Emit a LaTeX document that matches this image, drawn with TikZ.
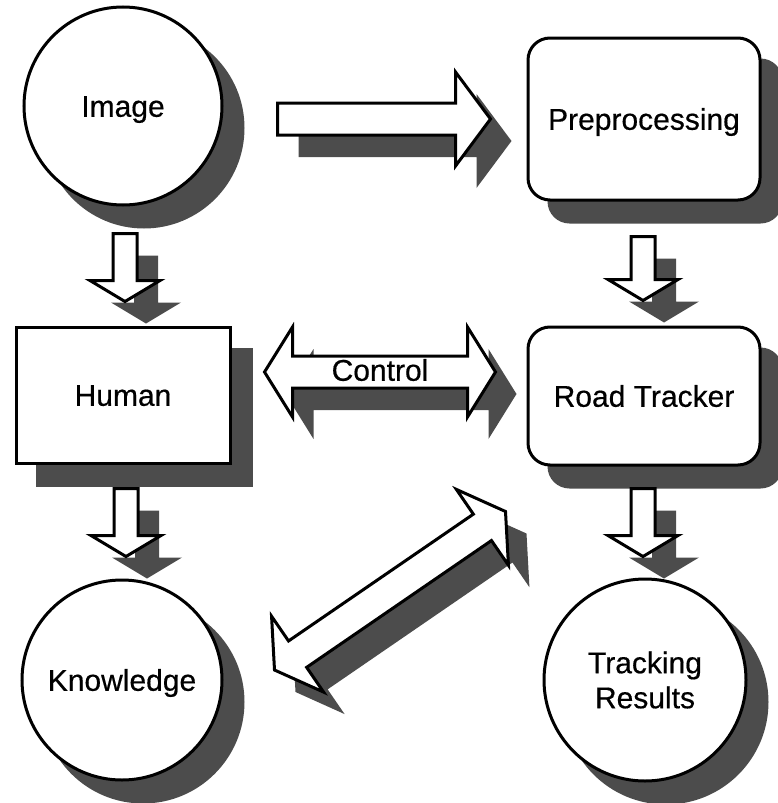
\documentclass[tikz,border=0pt]{standalone}
\usepackage{fontspec}
\setmainfont{Liberation Sans}
\usetikzlibrary{calc}

\pgfdeclarelayer{shadowlayer}
\pgfsetlayers{shadowlayer,main}

\definecolor{shadowgray}{gray}{0.30}

% Block arrow from tail #2 to tip #3, drawn with style #1;
% #4 = half width of the shaft, #5 = half width of the head, #6 = head length
\newcommand\singleblock[6]{%
  \path[#1] ($(#2)!#4!90:(#3)$)
    -- ($(#3)!#6!(#2)!#4!90:(#3)$)
    -- ($(#3)!#6!(#2)!#5!90:(#3)$)
    -- (#3)
    -- ($(#3)!#6!(#2)!#5!-90:(#3)$)
    -- ($(#3)!#6!(#2)!#4!-90:(#3)$)
    -- ($(#2)!#4!-90:(#3)$) -- cycle;}

% Double-headed block arrow between tips #2 and #3
\newcommand\doubleblock[6]{%
  \path[#1] (#2)
    -- ($(#2)!#6!(#3)!#5!90:(#3)$)
    -- ($(#2)!#6!(#3)!#4!90:(#3)$)
    -- ($(#3)!#6!(#2)!#4!90:(#3)$)
    -- ($(#3)!#6!(#2)!#5!90:(#3)$)
    -- (#3)
    -- ($(#3)!#6!(#2)!#5!-90:(#3)$)
    -- ($(#3)!#6!(#2)!#4!-90:(#3)$)
    -- ($(#2)!#6!(#3)!#4!-90:(#3)$)
    -- ($(#2)!#6!(#3)!#5!-90:(#3)$) -- cycle;}

\tikzset{
  label font/.style={font=\fontsize{30}{35}\selectfont\addfontfeature{FakeBold=0.5}},
  outline/.style={draw=black, line width=3pt, fill=white},
  ball/.style={outline, circle, inner sep=0pt, label font,
    text height=21.5pt, text depth=0pt},
  plainbox/.style={outline, rectangle, inner sep=0pt, label font,
    text height=21.5pt, text depth=0pt},
  softbox/.style={plainbox, rounded corners=22pt},
  arrowbody/.style={outline, line join=miter},
  shadowbody/.style={fill=shadowgray, draw=none},
}

\begin{document}
\begin{tikzpicture}[x=1pt, y=-1pt]
  \useasboundingbox (0,0) rectangle (777,803);

  % stages
  \node[ball, minimum size=198pt] (img) at (123,106) {Image};
  \node[softbox, minimum width=232pt, minimum height=162pt] (pre) at (644,119) {Preprocessing};
  \node[plainbox, minimum width=214pt, minimum height=136pt] (hum) at (123,395) {Human};
  \node[softbox, minimum width=232pt, minimum height=138pt] (rt) at (644,396) {Road Tracker};
  \node[ball, minimum size=200pt] (kno) at (122,680) {Knowledge};
  \node[ball, minimum size=202pt, align=center, text height=, text depth=] (tr) at (645,680) {Tracking\\Results};

  % arrow end points
  \coordinate (a1s) at ($(img.east)+(54,13)$);
  \coordinate (a1e) at ($(pre.west)+(-36,0)$);
  \coordinate (a2s) at ($(img.south)+(2,27)$);
  \coordinate (a2e) at ($(hum.north)+(2,-24)$);
  \coordinate (a3s) at ($(pre.south)+(-1,35)$);
  \coordinate (a3e) at ($(rt.north)+(-1,-25)$);
  \coordinate (a4s) at ($(hum.south)+(3,24)$);
  \coordinate (a4e) at ($(kno.north)+(4,-22)$);
  \coordinate (a5s) at ($(rt.south)+(-1,22)$);
  \coordinate (a5e) at ($(tr.north)+(-2,-21)$);
  \coordinate (a6l) at ($(hum.east)+(33,-23)$);
  \coordinate (a6r) at ($(rt.west)+(-31,-24)$);
  \coordinate (a7l) at ($(kno.east)+(51,-10)$);
  \coordinate (a7r) at ($(rt.south west)+(-21,45)$);

  % drop shadows
  \begin{pgfonlayer}{shadowlayer}
    \begin{scope}[transform canvas={shift={(21pt,-22pt)}}]
      \fill[shadowgray] (img.center) circle (100.5);
      \fill[shadowgray] (kno.center) circle (101.5);
      \fill[shadowgray] (tr.center) circle (102.5);
      \fill[shadowgray, rounded corners=22pt] (pre.south west) rectangle (pre.north east);
      \fill[shadowgray, rounded corners=22pt] (rt.south west) rectangle (rt.north east);
      \fill[shadowgray] (hum.south west) rectangle (hum.north east);
      \singleblock{shadowbody}{a1s}{a1e}{16pt}{47pt}{35pt}
      \singleblock{shadowbody}{a2s}{a2e}{12pt}{35pt}{21pt}
      \singleblock{shadowbody}{a3s}{a3e}{12pt}{35pt}{21pt}
      \singleblock{shadowbody}{a4s}{a4e}{12pt}{35pt}{21pt}
      \singleblock{shadowbody}{a5s}{a5e}{12pt}{35pt}{21pt}
      \doubleblock{shadowbody}{a6l}{a6r}{16pt}{45pt}{28pt}
      \doubleblock{shadowbody}{a7l}{a7r}{16pt}{46pt}{28pt}
    \end{scope}
  \end{pgfonlayer}

  % block arrows
  \singleblock{arrowbody}{a1s}{a1e}{16pt}{47pt}{35pt}
  \singleblock{arrowbody}{a2s}{a2e}{12pt}{35pt}{21pt}
  \singleblock{arrowbody}{a3s}{a3e}{12pt}{35pt}{21pt}
  \singleblock{arrowbody}{a4s}{a4e}{12pt}{35pt}{21pt}
  \singleblock{arrowbody}{a5s}{a5e}{12pt}{35pt}{21pt}
  \doubleblock{arrowbody}{a6l}{a6r}{16pt}{45pt}{28pt}
  \doubleblock{arrowbody}{a7l}{a7r}{16pt}{46pt}{28pt}

  % label on the control link
  \node[label font, inner sep=0pt, text height=21.5pt, text depth=0pt] (ctl) at ($(a6l)!0.5!(a6r)+(0,-2)$) {Control};
\end{tikzpicture}
\end{document}
